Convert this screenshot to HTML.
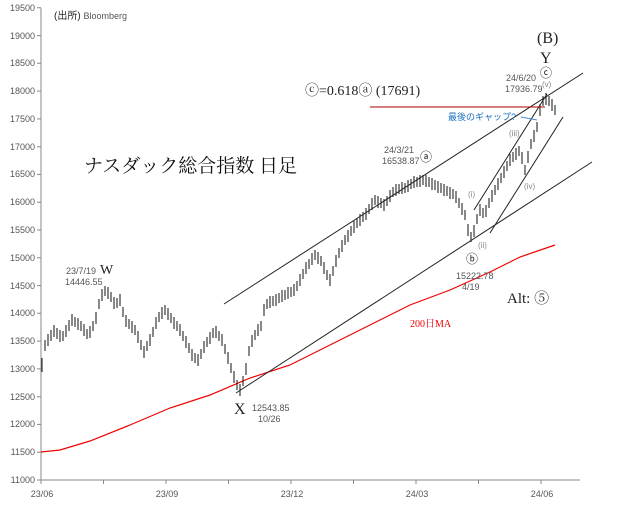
<!DOCTYPE html>
<html><head><meta charset="utf-8"><style>
body{margin:0;background:#fff}
svg{display:block;font-family:"Liberation Sans","Noto Sans CJK JP",sans-serif}
.t{font-size:9px;fill:#555}
.s{font-family:"Liberation Serif","Noto Serif CJK SC",serif}
</style></head><body>
<svg width="618" height="513" viewBox="0 0 618 513" xmlns="http://www.w3.org/2000/svg">
<rect width="618" height="513" fill="#fff"/>
<g stroke="#888" stroke-width="1">
<line x1="41" y1="8" x2="41" y2="480"/><line x1="41" y1="480" x2="580" y2="480"/>
<path d="M37 480h4M37 452.2h4M37 424.4h4M37 396.7h4M37 368.9h4M37 341.1h4M37 313.3h4M37 285.6h4M37 257.8h4M37 230h4M37 202.2h4M37 174.4h4M37 146.7h4M37 118.9h4M37 91.1h4M37 63.3h4M37 35.6h4M37 7.8h4"/>
<path d="M41 480v4M103.5 480v4M166 480v4M228.5 480v4M291 480v4M353.5 480v4M416 480v4M478.5 480v4M541 480v4"/>
</g>
<g class="t" text-anchor="end">
<text x="35" y="483">11000</text><text x="35" y="455">11500</text><text x="35" y="427">12000</text><text x="35" y="400">12500</text><text x="35" y="372">13000</text><text x="35" y="344">13500</text><text x="35" y="316">14000</text><text x="35" y="289">14500</text><text x="35" y="261">15000</text><text x="35" y="233">15500</text><text x="35" y="205">16000</text><text x="35" y="177">16500</text><text x="35" y="150">17000</text><text x="35" y="122">17500</text><text x="35" y="94">18000</text><text x="35" y="66">18500</text><text x="35" y="39">19000</text><text x="35" y="11">19500</text>
</g>
<g class="t" text-anchor="middle">
<text x="42" y="497">23/06</text><text x="167" y="497">23/09</text><text x="292" y="497">23/12</text><text x="417" y="497">24/03</text><text x="542" y="497">24/06</text>
</g>
<polyline fill="none" stroke="#e00" stroke-width="1.2" points="41,452 60,450 90,441 130,425 170,408 210,395 250,378 290,365 330,345 370,325 410,305 450,290 490,272 520,257 555,245"/>
<path fill="none" stroke="#111" stroke-width="1" d="M42 358V372M45 340V351M48 334V346M51 330V341M54 325V337M57 328V339M60 330V342M63 331V341M66 325V337M69 320V331M72 314V326M75 317V327M78 318V330M81 321V331M84 324V336M87 329V339M90 326V338M93 321V331M96 312V324M99 299V309M102 289V301M105 286V296M108 287V299M111 292V302M114 297V309M117 298V308M120 294V306M123 307V317M126 315V327M129 319V329M132 321V333M135 325V335M138 331V343M141 340V350M144 346V358M147 341V351M150 334V346M153 327V337M156 317V329M159 312V322M162 307V319M165 305V315M168 308V320M171 313V323M174 317V329M177 321V331M180 324V336M183 331V341M186 336V348M189 343V353M192 349V361M195 353V363M198 354V366M201 349V359M204 341V353M207 337V347M210 332V344M213 328V338M216 326V338M219 331V341M222 334V346M225 344V354M228 352V364M231 363V373M234 371V383M237 380V390M240 384V396M243 376V386M246 363V375M249 346V356M252 335V347M255 330V340M258 324V336M261 321V331M264 304V316M267 299V309M270 296V308M273 296V306M276 294V306M279 293V303M282 290V302M285 290V300M288 287V299M291 287V297M294 284V296M297 281V291M300 274V286M303 269V279M306 262V274M309 259V269M312 253V265M315 250V260M318 252V264M321 256V266M324 262V274M327 270V280M330 274V286M333 266V276M336 255V267M339 248V258M342 240V252M345 235V245M348 230V242M351 226V236M354 221V233M357 218V228M360 214V226M363 212V222M366 208V220M369 204V214M372 198V210M375 195V205M378 196V208M381 198V208M384 199V211M387 196V206M390 190V202M393 187V197M396 184V196M399 184V194M402 182V194M405 183V193M408 180V192M411 179V189M414 176V188M417 177V187M420 175V187M423 175V185M426 175V187M429 177V187M432 178V190M435 180V190M438 181V193M441 183V193M444 184V196M447 186V196M450 187V199M453 189V199M456 191V203M459 198V208M462 203V215M465 210V220M468 224V236M471 232V242M474 225V237M477 214V224M480 204V216M483 208V218M486 205V217M489 198V208M492 190V202M495 185V195M498 178V190M501 173V183M504 166V178M507 161V171M510 154V166M513 152V162M516 148V160M519 146V156M522 152V164M525 165V175M528 151V163M531 139V149M534 130V142M537 122V132M540 104V116M543 96V106M546 93V105M549 96V106M552 99V111M555 105V115"/>
<g stroke="#222" stroke-width="1" fill="none">
<line x1="224" y1="304" x2="583" y2="73"/>
<line x1="236" y1="393" x2="592" y2="162"/>
<line x1="474" y1="210" x2="547" y2="94"/>
<line x1="490" y1="233" x2="563" y2="117"/>
</g>
<line x1="370" y1="107" x2="545" y2="107" stroke="#a00" stroke-width="1"/>
<line x1="521" y1="117" x2="537" y2="120" stroke="#4a90d0" stroke-width="1"/>
<text x="54" y="19" font-size="10" fill="#222">(出所) <tspan fill="#555" font-size="9">Bloomberg</tspan></text>
<text x="84" y="172" font-size="19" fill="#111" class="s">ナスダック総合指数 日足</text>
<text x="305" y="95" font-size="14" fill="#222" class="s">ⓒ=0.618ⓐ (17691)</text>
<text x="448" y="120" font-size="9" fill="#1a70c0">最後のギャップ?</text>
<text x="537" y="43" font-size="16" class="s" fill="#222">(B)</text>
<text x="540" y="63" font-size="16" class="s" fill="#222">Y</text>
<text x="540" y="77" font-size="12" fill="#222">ⓒ</text>
<text x="506" y="81" class="t">24/6/20</text><text x="505" y="92" class="t">17936.79</text>
<text x="542" y="87" font-size="8" fill="#888">(v)</text>
<text x="384" y="153" class="t">24/3/21</text><text x="382" y="164" class="t">16538.87</text>
<text x="420" y="161" font-size="12" fill="#222">ⓐ</text>
<text x="509" y="136" font-size="8" fill="#888">(iii)</text>
<text x="524" y="189" font-size="8" fill="#888">(iv)</text>
<text x="468" y="197" font-size="8" fill="#888">(i)</text>
<text x="478" y="248" font-size="8" fill="#888">(ii)</text>
<text x="466" y="263" font-size="12" fill="#222">ⓑ</text>
<text x="456" y="279" class="t">15222.78</text><text x="462" y="290" class="t">4/19</text>
<text x="507" y="303" font-size="15" class="s" fill="#222">Alt: ⑤</text>
<text x="410" y="327" font-size="10" class="s" fill="#e00">200日MA</text>
<text x="66" y="274" class="t">23/7/19</text><text x="65" y="285" class="t">14446.55</text>
<text x="100" y="274" font-size="14" class="s" fill="#222">W</text>
<text x="234" y="414" font-size="16" class="s" fill="#222">X</text>
<text x="252" y="411" class="t">12543.85</text><text x="258" y="422" class="t">10/26</text>
</svg>
</body></html>
